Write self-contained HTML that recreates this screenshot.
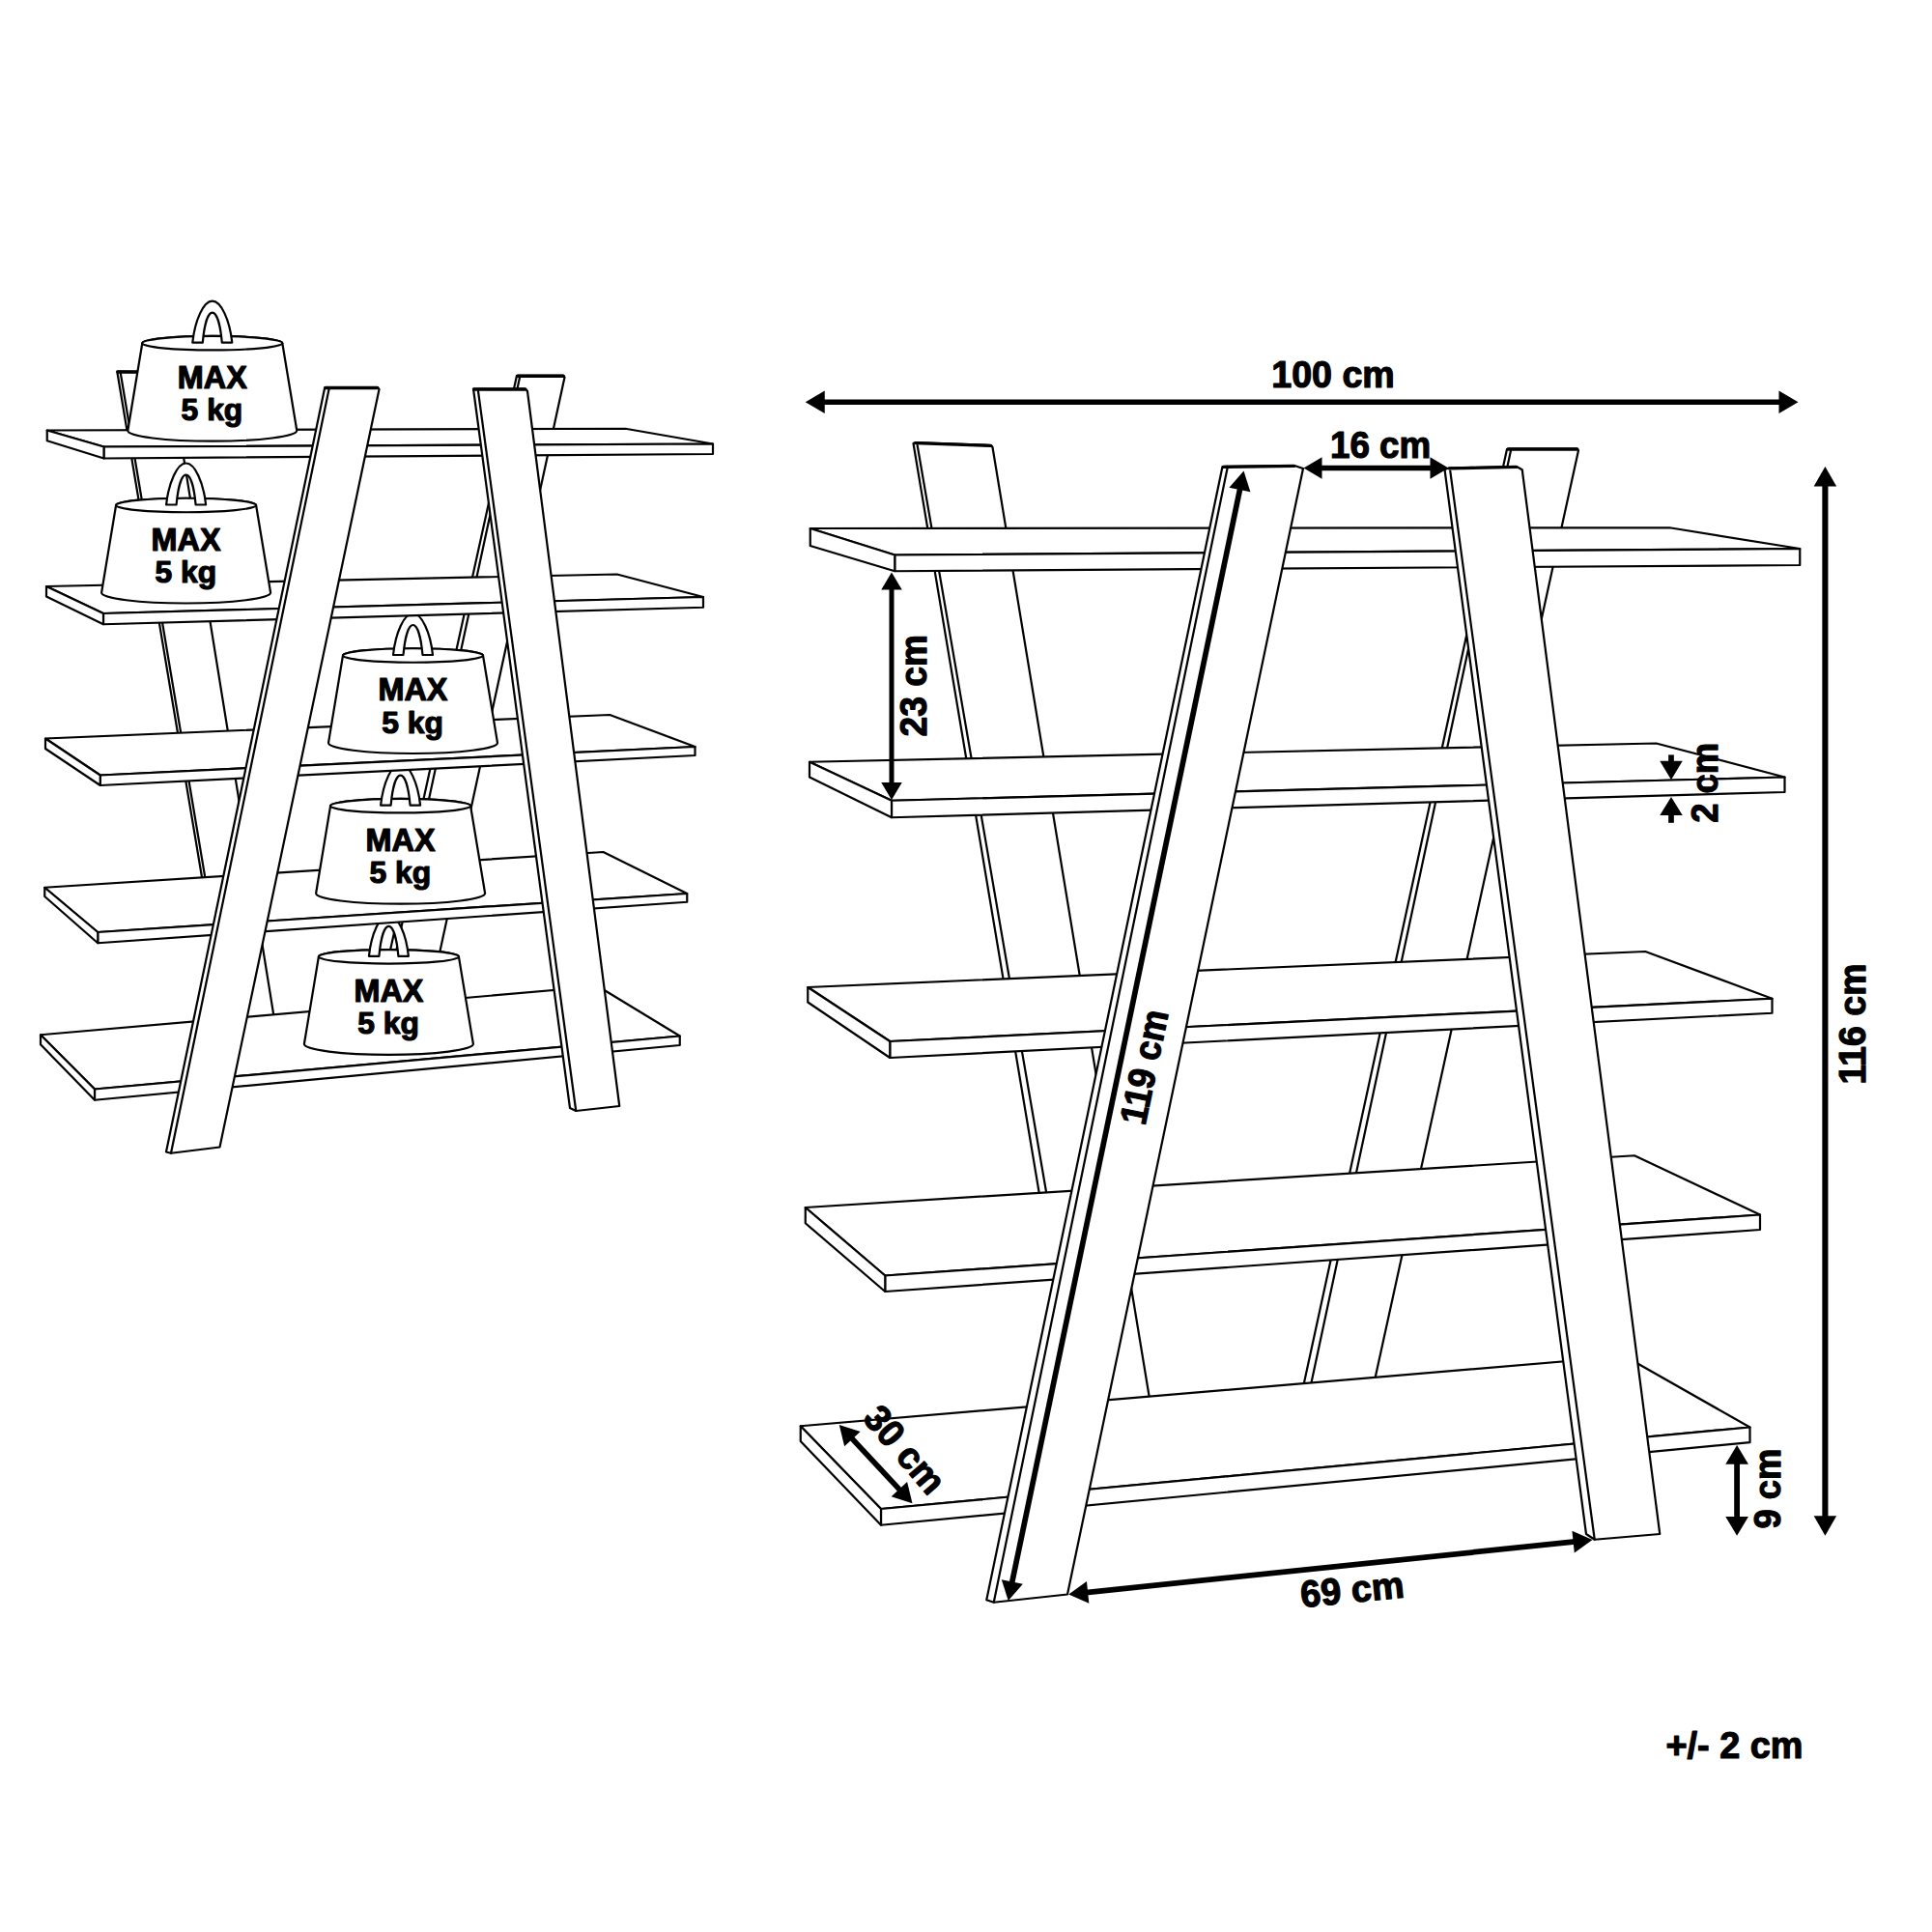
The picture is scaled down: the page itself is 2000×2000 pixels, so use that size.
<!DOCTYPE html>
<html lang="en"><head><meta charset="utf-8"><title>Ladder shelf dimensions</title>
<style>
html,body{margin:0;padding:0;background:#fff;}
body{width:2000px;height:2000px;overflow:hidden;}
svg{display:block;}
.s{fill:#fff;stroke:#000;stroke-width:2.2;stroke-linejoin:round;stroke-linecap:round;}
.l{fill:none;stroke:#000;stroke-width:2.2;stroke-linecap:round;}
.k{fill:none;stroke:#000;stroke-width:3.4;stroke-linecap:round;}
.d{fill:none;stroke:#000;stroke-width:5.7;stroke-linecap:butt;}
.a{fill:#000;stroke:none;}
.t{font-family:"Liberation Sans", sans-serif;font-weight:700;fill:#000;stroke:#000;stroke-width:1.2;stroke-linejoin:round;}
</style></head><body>
<svg width="2000" height="2000" viewBox="0 0 2000 2000">
<rect width="2000" height="2000" fill="#fff"/>
<g id="left-figure">
<polygon class="s" points="121.25,384.5 175.81,385 287.18,1075 236.98,1075"/>
<line class="l" x1="124.75" y1="386" x2="240.22" y2="1075"/>
<line class="k" x1="122" y1="385" x2="175" y2="385.3"/>
<polygon class="s" points="535,388.75 583.5,388.75 584.5,390.5 439.11,1060 387.19,1060"/>
<line class="l" x1="538.16" y1="390" x2="393.91" y2="1060"/>
<line class="k" x1="536" y1="389.3" x2="583" y2="389.3"/>
<polygon class="s" points="42,1071.25 619,1021 703.75,1072.5 98,1127.5"/>
<polygon class="s" points="98,1127.5 703.75,1072.5 703.75,1082 98,1138.75"/>
<polygon class="s" points="42,1071.25 98,1127.5 98,1138.75 42,1081.25"/>
<g transform="translate(402.4 990.3)">
<path class="s" d="M-72.5,0 L-87.5,90.5 A87.5,11 0 0 0 87.5,90.5 L72.5,0 A72.5,7.25 0 0 0 -72.5,0 Z"/>
<ellipse class="s" cx="0" cy="0" rx="72.5" ry="7.25"/>
<path class="s" fill-rule="evenodd" d="M-20.5,-0.5 C-18,-24 -9,-43.5 0,-43.5 C9,-43.5 18,-24 20.5,-0.5 L10,-0.5 C8.5,-17 5,-31.5 0,-31.5 C-5,-31.5 -8.5,-17 -10,-0.5 Z"/>
</g>
<text class="t" font-size="32.5" transform="translate(366.4 1037.1) rotate(0) scale(0.9970 1)">MAX</text>
<text class="t" font-size="32" transform="translate(370.2 1070.3) rotate(0) scale(0.9948 1)">5 kg</text>
<polygon class="s" points="46.25,918.75 624.5,882 711.25,925 101.25,965"/>
<polygon class="s" points="101.25,965 711.25,925 711.25,933.75 101.25,976.25"/>
<polygon class="s" points="46.25,918.75 101.25,965 101.25,976.25 46.25,928"/>
<g transform="translate(414.6 834.2)">
<path class="s" d="M-72.5,0 L-87.5,90.5 A87.5,11 0 0 0 87.5,90.5 L72.5,0 A72.5,7.25 0 0 0 -72.5,0 Z"/>
<ellipse class="s" cx="0" cy="0" rx="72.5" ry="7.25"/>
<path class="s" fill-rule="evenodd" d="M-20.5,-0.5 C-18,-24 -9,-43.5 0,-43.5 C9,-43.5 18,-24 20.5,-0.5 L10,-0.5 C8.5,-17 5,-31.5 0,-31.5 C-5,-31.5 -8.5,-17 -10,-0.5 Z"/>
</g>
<text class="t" font-size="32.5" transform="translate(378.6 881) rotate(0) scale(0.9970 1)">MAX</text>
<text class="t" font-size="32" transform="translate(382.4 914.2) rotate(0) scale(0.9948 1)">5 kg</text>
<polygon class="s" points="47,764.5 631.25,740 719.5,773 103.75,802.5"/>
<polygon class="s" points="103.75,802.5 719.5,773 719.5,782 103.75,813"/>
<polygon class="s" points="47,764.5 103.75,802.5 103.75,813 47,775"/>
<g transform="translate(427.5 678.5)">
<path class="s" d="M-72.5,0 L-87.5,90.5 A87.5,11 0 0 0 87.5,90.5 L72.5,0 A72.5,7.25 0 0 0 -72.5,0 Z"/>
<ellipse class="s" cx="0" cy="0" rx="72.5" ry="7.25"/>
<path class="s" fill-rule="evenodd" d="M-20.5,-0.5 C-18,-24 -9,-43.5 0,-43.5 C9,-43.5 18,-24 20.5,-0.5 L10,-0.5 C8.5,-17 5,-31.5 0,-31.5 C-5,-31.5 -8.5,-17 -10,-0.5 Z"/>
</g>
<text class="t" font-size="32.5" transform="translate(391.5 725.3) rotate(0) scale(0.9970 1)">MAX</text>
<text class="t" font-size="32" transform="translate(395.3 758.5) rotate(0) scale(0.9948 1)">5 kg</text>
<polygon class="s" points="48,607 638.75,594.5 728,618 107,635"/>
<polygon class="s" points="107,635 728,618 728,628.75 107,646.25"/>
<polygon class="s" points="48,607 107,635 107,646.25 48,617.5"/>
<g transform="translate(192.6 523)">
<path class="s" d="M-72.5,0 L-87.5,90.5 A87.5,11 0 0 0 87.5,90.5 L72.5,0 A72.5,7.25 0 0 0 -72.5,0 Z"/>
<ellipse class="s" cx="0" cy="0" rx="72.5" ry="7.25"/>
<path class="s" fill-rule="evenodd" d="M-20.5,-0.5 C-18,-24 -9,-43.5 0,-43.5 C9,-43.5 18,-24 20.5,-0.5 L10,-0.5 C8.5,-17 5,-31.5 0,-31.5 C-5,-31.5 -8.5,-17 -10,-0.5 Z"/>
</g>
<text class="t" font-size="32.5" transform="translate(156.6 569.8) rotate(0) scale(0.9970 1)">MAX</text>
<text class="t" font-size="32" transform="translate(160.4 603) rotate(0) scale(0.9948 1)">5 kg</text>
<polygon class="s" points="48.75,445.5 647.5,443.75 738,459.5 107.5,462.5"/>
<polygon class="s" points="107.5,462.5 738,459.5 738,470 107.5,474.5"/>
<polygon class="s" points="48.75,445.5 107.5,462.5 107.5,474.5 48.75,456.25"/>
<g transform="translate(219.8 355.2)">
<path class="s" d="M-72.5,0 L-87.5,90.5 A87.5,11 0 0 0 87.5,90.5 L72.5,0 A72.5,7.25 0 0 0 -72.5,0 Z"/>
<ellipse class="s" cx="0" cy="0" rx="72.5" ry="7.25"/>
<path class="s" fill-rule="evenodd" d="M-20.5,-0.5 C-18,-24 -9,-43.5 0,-43.5 C9,-43.5 18,-24 20.5,-0.5 L10,-0.5 C8.5,-17 5,-31.5 0,-31.5 C-5,-31.5 -8.5,-17 -10,-0.5 Z"/>
</g>
<text class="t" font-size="32.5" transform="translate(183.8 402) rotate(0) scale(0.9970 1)">MAX</text>
<text class="t" font-size="32" transform="translate(187.6 435.2) rotate(0) scale(0.9948 1)">5 kg</text>
<polygon class="s" points="336.25,401 391,401 392.5,403 227.5,1187.5 177,1193.75 172,1192.5"/>
<line class="l" x1="340.5" y1="403" x2="177" y2="1193.75"/>
<line class="k" x1="337" y1="401.5" x2="390.5" y2="401.5"/>
<polygon class="s" points="490,402.5 544,402.5 546,405 641.25,1145 596.25,1150 590,1147"/>
<line class="l" x1="495" y1="405" x2="596.25" y2="1150"/>
<line class="k" x1="491" y1="403" x2="543.5" y2="403"/>
</g>
<g id="right-figure">
<polygon class="s" points="945.5,459 947.5,458 1026,461 1027.5,463 1194.48,1475 1116.02,1475"/>
<line class="l" x1="949.65" y1="461" x2="1124.67" y2="1475"/>
<line class="k" x1="948" y1="458.6" x2="1025.5" y2="461.4"/>
<polygon class="s" points="1560,465 1561,464.5 1633,464.5 1634,466.25 1417.31,1455 1344.87,1455"/>
<line class="l" x1="1563.96" y1="466.5" x2="1352.42" y2="1455"/>
<line class="k" x1="1561.5" y1="465" x2="1632.5" y2="465"/>
<polygon class="s" points="838.75,547 1728.25,546.25 1863.25,568 926.25,574.5"/>
<polygon class="s" points="926.25,574.5 1863.25,568 1863.25,585 926.25,591.25"/>
<polygon class="s" points="838.75,547 926.25,574.5 926.25,591.25 838.75,565"/>
<polygon class="s" points="838,788.75 1714.5,769.5 1847.5,804.5 923,828.75"/>
<polygon class="s" points="923,828.75 1847.5,804.5 1847.5,820 923,846.25"/>
<polygon class="s" points="838,788.75 923,828.75 923,846.25 838,804.5"/>
<polygon class="s" points="836.25,1022 1703.25,985 1834.5,1033.75 921.25,1078"/>
<polygon class="s" points="921.25,1078 1834.5,1033.75 1834.5,1048.75 921.25,1095"/>
<polygon class="s" points="836.25,1022 921.25,1078 921.25,1095 836.25,1037.5"/>
<polygon class="s" points="833.75,1250 1692,1196.25 1822,1257.5 916.25,1320.5"/>
<polygon class="s" points="916.25,1320.5 1822,1257.5 1822,1273 916.25,1337"/>
<polygon class="s" points="833.75,1250 916.25,1320.5 916.25,1337 833.75,1266.25"/>
<polygon class="s" points="828.75,1476.25 1682,1404 1811.5,1477.5 912,1562"/>
<polygon class="s" points="912,1562 1811.5,1477.5 1811.5,1493.2 912,1578.75"/>
<polygon class="s" points="828.75,1476.25 912,1562 912,1578.75 828.75,1492"/>
<polygon class="s" points="1265.5,483 1340,482 1349,485 1105,1650.5 1028.75,1658.75 1021.25,1656.25"/>
<line class="l" x1="1270.5" y1="485" x2="1028.75" y2="1658.75"/>
<line class="k" x1="1266.5" y1="483.4" x2="1339.5" y2="482.4"/>
<polygon class="s" points="1495.5,486 1500,484.5 1570,483 1575.75,486.25 1718.25,1588 1650.75,1593.75 1642,1588"/>
<line class="l" x1="1501.25" y1="487.5" x2="1650.75" y2="1593.75"/>
<line class="k" x1="1500.5" y1="484.9" x2="1569.5" y2="483.4"/>
</g>
<g id="dimensions">
<line class="d" x1="851.75" y1="416.25" x2="1843.5" y2="416.25"/>
<polygon class="a" points="833.75,416.25 853.75,404.5 853.75,428"/>
<polygon class="a" points="1861.5,416.25 1841.5,428 1841.5,404.5"/>
<line class="d" x1="1366.5" y1="484.5" x2="1482.5" y2="484.5"/>
<polygon class="a" points="1349.5,484.5 1368.5,473.25 1368.5,495.75"/>
<polygon class="a" points="1499.5,484.5 1480.5,495.75 1480.5,473.25"/>
<line class="d" style="stroke-width:5" x1="923" y1="608.5" x2="923" y2="812"/>
<polygon class="a" points="923,592.5 933.75,610.5 912.25,610.5"/>
<polygon class="a" points="923,828 912.25,810 933.75,810"/>
<line class="d" style="stroke-width:6.1" x1="1889.4" y1="501.5" x2="1889.4" y2="1571.3"/>
<polygon class="a" points="1889.4,483 1901.15,503.5 1877.65,503.5"/>
<polygon class="a" points="1889.4,1589.8 1877.65,1569.3 1901.15,1569.3"/>
<line class="d" style="stroke-width:5.8" x1="1798.1" y1="1513.7" x2="1798.1" y2="1572.1"/>
<polygon class="a" points="1798.1,1496 1809.95,1515.7 1786.25,1515.7"/>
<polygon class="a" points="1798.1,1589.8 1786.25,1570.1 1809.95,1570.1"/>
<line class="d" x1="1283.83" y1="505.12" x2="1047.42" y2="1639.38"/>
<polygon class="a" points="1287.5,487.5 1294.43,509.37 1272.41,504.78"/>
<polygon class="a" points="1043.75,1657 1036.82,1635.13 1058.84,1639.72"/>
<line class="d" x1="1124.15" y1="1648.63" x2="1630.6" y2="1595.87"/>
<polygon class="a" points="1106.25,1650.5 1124.95,1636.99 1127.33,1659.87"/>
<polygon class="a" points="1648.5,1594 1629.8,1607.51 1627.42,1584.63"/>
<line class="d" x1="881.02" y1="1488.17" x2="932.23" y2="1543.08"/>
<polygon class="a" points="868.75,1475 890.62,1481.96 874.16,1497.3"/>
<polygon class="a" points="944.5,1556.25 922.63,1549.29 939.09,1533.95"/>
<line class="d" x1="1730" y1="781.4" x2="1730" y2="789.8"/>
<polygon class="a" points="1730,807.2 1718.25,787.8 1741.75,787.8"/>
<line class="d" x1="1730" y1="851.8" x2="1730" y2="842.1"/>
<polygon class="a" points="1730,824.9 1741.75,844.1 1718.25,844.1"/>
<text class="t" font-size="38.8" transform="translate(1316.25 401.25) rotate(0) scale(0.9691 1)">100 cm</text>
<text class="t" font-size="38.8" transform="translate(1377 473.75) rotate(0) scale(0.9477 1)">16 cm</text>
<text class="t" font-size="38.8" transform="translate(959.2 762.5) rotate(-90) scale(0.9591 1)">23 cm</text>
<text class="t" font-size="38.8" transform="translate(1778 851.8) rotate(-90) scale(0.9386 1)">2 cm</text>
<text class="t" font-size="38.8" transform="translate(1930.5 1122.5) rotate(-90) scale(0.9653 1)">116 cm</text>
<text class="t" font-size="38.8" transform="translate(1843.2 1582.5) rotate(-90) scale(0.9386 1)">9 cm</text>
<text class="t" font-size="38.8" transform="translate(1185.3 1166) rotate(-78.3) scale(0.9273 1)">119 cm</text>
<text class="t" font-size="38.8" transform="translate(1347.5 1664) rotate(-5.6) scale(0.9773 1)">69 cm</text>
<text class="t" font-size="38.8" transform="translate(892 1469) rotate(49.3) scale(0.9637 1)">30 cm</text>
<text class="t" font-size="38.8" transform="translate(1724.5 1820) rotate(0) scale(0.9754 1)">+/- 2 cm</text>
</g>
</svg></body></html>
